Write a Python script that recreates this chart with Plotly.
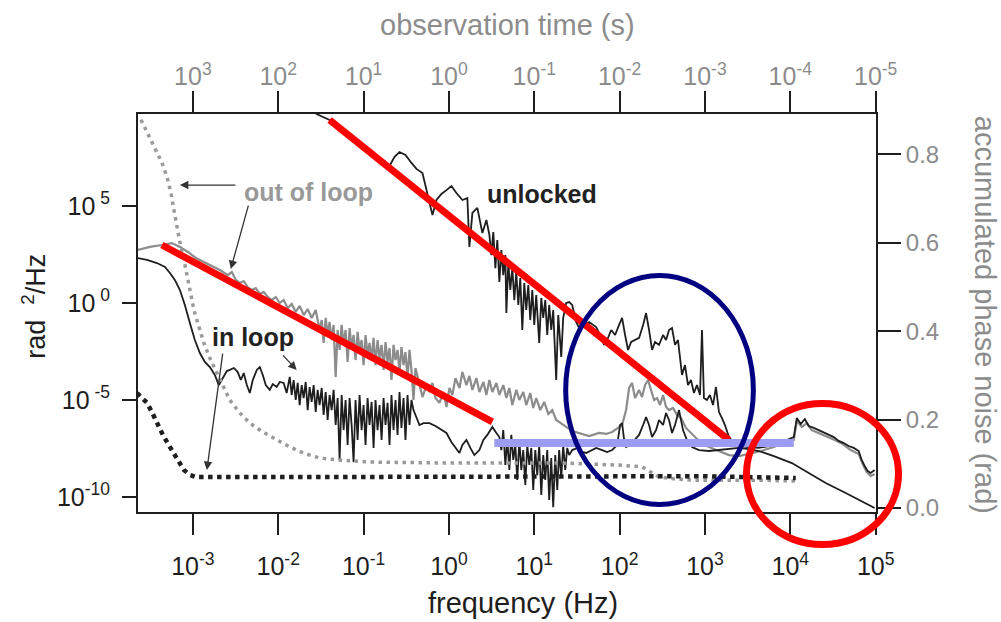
import numpy as np
import plotly.graph_objects as go

# ---------------- data (log10 units) ----------------
# unlocked phase-noise PSD (black)
unlocked_logf = [
    -1.749, -1.550, -1.398, -1.222, -1.047, -0.871, -0.778, -0.696, -0.637, -0.579,
    -0.509, -0.439, -0.380, -0.310, -0.251, -0.193, -0.146, -0.088, -0.029, 0.029,
    0.088, 0.158, 0.216, 0.240, 0.275, 0.333, 0.392, 0.439,
    0.474, 0.497, 0.520, 0.544, 0.567, 0.591, 0.614, 0.637, 0.661, 0.673,
    0.696, 0.719, 0.743, 0.766, 0.789, 0.813, 0.836, 0.860, 0.883, 0.906,
    0.930, 0.953, 0.977, 1.000, 1.023, 1.058, 1.082, 1.105, 1.129, 1.152,
    1.175, 1.199, 1.222, 1.257, 1.281, 1.316, 1.339, 1.374, 1.409, 1.444,
    1.491, 1.526, 1.585, 1.643, 1.725, 1.772, 1.819, 1.854, 1.901, 1.947,
    1.994, 2.029, 2.064, 2.099, 2.135, 2.181, 2.228, 2.275, 2.310, 2.345,
    2.380, 2.415, 2.462, 2.509, 2.544, 2.579, 2.614, 2.649, 2.684, 2.731,
    2.766, 2.801, 2.836, 2.871, 2.906, 2.942, 2.965, 2.988, 3.023, 3.058,
    3.094, 3.129, 3.164, 3.199, 3.234, 3.281, 3.339, 3.398, 3.480, 3.632,
    3.807, 3.959, 4.041, 4.076, 4.123, 4.170, 4.216, 4.275, 4.333, 4.392,
    4.450, 4.509, 4.567, 4.626, 4.684, 4.743, 4.801, 4.836, 4.871, 4.906,
    4.942, 4.988]
unlocked_logpsd = [
    10.46, 9.74, 9.43, 8.92, 8.30, 7.63, 7.27, 7.06, 7.53, 7.78,
    7.63, 7.22, 6.91, 6.70, 5.57, 4.54, 5.31, 5.62, 5.82, 6.03,
    5.67, 5.31, 5.41, 2.89, 4.64, 4.90, 3.61, 4.28,
    3.51, 2.47, 3.66, 1.80, 3.25, 1.08, 2.73, 1.44, 2.47, -0.52,
    2.11, 0.67, 1.80, 0.15, 1.60, -0.10, 1.29, -1.39, 1.03, -0.36,
    0.93, -0.88, 0.67, -1.13, 0.41, -2.06, 0.26, -0.77, 0.15, -1.65,
    -0.10, -1.39, -0.36, -3.97, -0.62, -2.78, -0.77, 0.00, 0.05, -0.10,
    -0.98, -1.29, -1.13, -0.98, -1.24, -1.65, -2.16, -1.91, -1.39, -1.65,
    -1.13, -0.77, -1.65, -2.42, -2.01, -1.91, -1.80, -1.13, -0.52, -1.39,
    -2.42, -2.01, -2.16, -1.65, -1.91, -1.39, -1.29, -2.16, -1.91, -3.71,
    -3.20, -4.23, -3.97, -4.64, -4.23, -4.74, -1.39, -4.90, -5.00, -4.74,
    -5.26, -4.33, -5.62, -5.93, -6.29, -6.91, -7.22, -7.32, -7.42, -7.47,
    -7.32, -7.06, -6.91, -5.93, -6.24, -5.98, -6.34, -6.44, -6.55, -6.70,
    -6.80, -6.91, -7.11, -7.22, -7.37, -7.47, -7.63, -8.09, -8.40, -8.66,
    -8.76, -8.61]

# out-of-loop PSD (grey)
outloop_logf = [
    -3.655, -3.503, -3.363, -3.246, -3.152, -3.058, -2.965, -2.871, -2.778, -2.684,
    -2.591, -2.544, -2.497, -2.450, -2.404, -2.357, -2.310, -2.263, -2.216, -2.170,
    -2.123, -2.076, -2.029, -1.982, -1.936, -1.889, -1.842, -1.795, -1.749, -1.702,
    -1.655, -1.608, -1.561, -1.515, -1.491, -1.468, -1.444, -1.421, -1.398, -1.374,
    -1.351, -1.327, -1.304, -1.281, -1.257, -1.234, -1.211, -1.187, -1.164, -1.140,
    -1.117, -1.094, -1.070, -1.047, -1.023, -1.000, -0.977, -0.953, -0.930, -0.906,
    -0.883, -0.860, -0.836, -0.813, -0.789, -0.766, -0.743, -0.719, -0.696, -0.673,
    -0.649, -0.626, -0.602, -0.579, -0.556, -0.532, -0.509, -0.485, -0.462, -0.439,
    -0.415, -0.392, -0.357, -0.310, -0.263, -0.228, -0.193, -0.158, -0.111, -0.064,
    -0.029, 0.006, 0.041, 0.076, 0.123, 0.158, 0.205, 0.240, 0.275, 0.322,
    0.357, 0.404, 0.439, 0.474, 0.509, 0.556, 0.591, 0.637, 0.673, 0.708,
    0.743, 0.789, 0.825, 0.871, 0.906, 0.953, 0.988, 1.023, 1.070, 1.117,
    1.164, 1.211, 1.257, 1.316, 1.374, 1.444, 1.526, 1.643, 1.760, 1.842,
    1.912, 1.982, 2.029, 2.076, 2.111, 2.146, 2.181, 2.228, 2.263, 2.298,
    2.333, 2.368, 2.404, 2.439, 2.474, 2.509, 2.544, 2.579, 2.626, 2.673,
    2.719, 2.778, 2.836, 2.895, 2.953, 3.023, 3.105, 3.187, 3.281, 3.398,
    3.515, 3.655, 3.807, 3.947, 4.041, 4.076, 4.135, 4.193, 4.251, 4.333,
    4.427, 4.520, 4.614, 4.708, 4.801, 4.848, 4.895, 4.942, 4.988]
outloop_logpsd = [
    2.73, 2.89, 2.99, 3.09, 2.89, 2.63, 2.32, 2.11, 1.91, 1.70,
    1.44, 1.60, 1.19, 1.03, 1.13, 0.82, 0.67, 0.77, 0.46, 0.57,
    0.31, 0.15, 0.31, 0.00, 0.15, -0.26, -0.05, -0.46, -0.15, -0.62,
    -0.31, -0.77, -0.36, -1.39, -0.88, -2.06, -0.77, -1.65, -0.98, -1.91,
    -1.13, -3.81, -1.39, -2.42, -1.13, -2.16, -1.39, -3.04, -1.29, -2.32,
    -1.65, -2.94, -1.49, -2.42, -1.91, -3.20, -1.65, -2.68, -2.06, -2.94,
    -1.80, -3.20, -1.91, -2.84, -2.16, -3.45, -2.01, -3.04, -2.32, -3.97,
    -2.16, -2.94, -2.42, -3.56, -2.27, -3.20, -2.53, -3.87, -2.42, -3.45,
    -5.00, -3.35, -3.97, -4.85, -4.23, -4.59, -4.12, -4.90, -5.15, -4.59,
    -5.36, -4.38, -4.74, -3.87, -4.38, -3.56, -4.23, -3.76, -4.48, -3.87,
    -4.59, -4.07, -4.74, -3.97, -4.59, -4.12, -4.74, -4.23, -4.90, -4.38,
    -5.26, -4.48, -5.00, -4.59, -5.26, -4.64, -5.41, -4.90, -5.52, -5.10,
    -5.72, -5.52, -6.03, -6.19, -6.39, -6.60, -6.70, -6.86, -6.70, -6.75,
    -6.65, -6.44, -6.29, -5.52, -4.38, -4.12, -4.90, -4.48, -4.85, -4.23,
    -3.97, -4.48, -5.00, -4.90, -5.26, -4.74, -5.36, -5.52, -5.41, -5.77,
    -5.93, -6.44, -6.70, -6.96, -7.16, -7.37, -7.53, -7.68, -7.84, -7.89,
    -7.78, -7.63, -7.42, -7.16, -7.06, -6.08, -6.39, -6.19, -6.55, -6.70,
    -6.86, -7.06, -7.27, -7.58, -7.78, -8.30, -8.71, -8.92, -8.81]

# in-loop PSD (black)
inloop_logf = [
    -3.655, -3.538, -3.421, -3.327, -3.269, -3.211, -3.152, -3.094, -3.035, -2.977,
    -2.918, -2.860, -2.801, -2.743, -2.696, -2.649, -2.602, -2.567, -2.520, -2.474,
    -2.439, -2.404, -2.368, -2.333, -2.298, -2.251, -2.216, -2.181, -2.146, -2.099,
    -2.064, -2.018, -1.982, -1.936, -1.901, -1.865, -1.842, -1.819, -1.795, -1.772,
    -1.749, -1.725, -1.702, -1.678, -1.655, -1.632, -1.608, -1.585, -1.561, -1.538,
    -1.515, -1.491, -1.468, -1.444, -1.421, -1.398, -1.374, -1.351, -1.327, -1.304,
    -1.281, -1.257, -1.234, -1.211, -1.187, -1.164, -1.140, -1.117, -1.094, -1.070,
    -1.047, -1.023, -1.000, -0.977, -0.953, -0.930, -0.906, -0.883, -0.860, -0.836,
    -0.813, -0.789, -0.766, -0.743, -0.719, -0.696, -0.673, -0.649, -0.626, -0.602,
    -0.579, -0.556, -0.532, -0.509, -0.485, -0.462, -0.439, -0.415, -0.380, -0.345,
    -0.298, -0.228, -0.158, -0.088, -0.029, 0.029, 0.076, 0.123, 0.158, 0.205,
    0.251, 0.298, 0.357, 0.404, 0.450, 0.509, 0.556, 0.591, 0.614, 0.637,
    0.661, 0.684, 0.708, 0.731, 0.754, 0.778, 0.801, 0.825, 0.848, 0.871,
    0.895, 0.918, 0.942, 0.965, 0.988, 1.012, 1.035, 1.058, 1.082, 1.105,
    1.129, 1.152, 1.175, 1.199, 1.222, 1.246, 1.269, 1.292, 1.316, 1.339,
    1.363, 1.386, 1.409, 1.444, 1.503, 1.561, 1.608, 1.667, 1.725, 1.795,
    1.854, 1.912, 1.971, 2.006, 2.029, 2.053, 2.076, 2.123, 2.170, 2.228,
    2.275, 2.310, 2.345, 2.380, 2.427, 2.462, 2.509, 2.544, 2.579, 2.614,
    2.649, 2.696, 2.743, 2.789, 2.848, 2.930, 3.047, 3.164, 3.281, 3.398,
    3.515, 3.632, 3.807, 4.018, 4.216, 4.415, 4.626, 4.801, 4.953, 4.988]
inloop_logpsd = [
    2.32, 2.22, 2.06, 1.86, 1.55, 1.19, 0.67, -0.10, -1.03, -1.91,
    -2.58, -3.04, -3.30, -3.71, -4.23, -3.87, -3.51, -3.45, -3.35, -3.56,
    -3.97, -3.61, -4.23, -4.64, -3.97, -3.45, -3.30, -3.71, -4.23, -4.48,
    -4.18, -4.33, -4.07, -4.12, -4.64, -3.81, -4.74, -3.97, -5.00, -4.12,
    -5.26, -4.23, -4.90, -4.07, -5.52, -4.33, -5.10, -4.23, -5.62, -4.48,
    -5.26, -4.38, -5.77, -4.59, -6.03, -4.74, -5.52, -4.48, -6.29, -4.90,
    -8.09, -4.74, -6.55, -5.00, -7.32, -4.90, -6.29, -8.20, -5.00, -7.06,
    -4.74, -6.55, -5.26, -7.32, -4.90, -6.29, -5.10, -7.47, -5.00, -6.55,
    -5.26, -7.06, -4.90, -6.29, -5.15, -7.32, -4.74, -6.55, -5.00, -6.80,
    -4.59, -6.44, -4.90, -7.06, -4.74, -6.29, -5.00, -5.52, -5.93, -6.29,
    -6.19, -6.19, -6.34, -6.55, -6.70, -7.16, -7.47, -7.73, -7.32, -7.06,
    -7.47, -7.84, -7.58, -7.06, -6.80, -6.39, -6.70, -6.91, -7.58, -6.55,
    -8.35, -7.06, -8.61, -6.80, -8.09, -7.32, -9.12, -7.06, -8.61, -7.58,
    -9.38, -7.32, -8.35, -7.47, -9.64, -7.58, -8.87, -7.32, -9.90, -7.84,
    -9.12, -7.58, -10.15, -7.99, -10.52, -7.84, -9.64, -7.58, -9.02, -7.32,
    -8.61, -7.47, -7.84, -7.58, -7.47, -7.68, -7.73, -7.58, -7.47, -7.58,
    -7.68, -7.58, -7.32, -6.29, -6.19, -7.06, -7.42, -7.32, -7.06, -6.80,
    -6.29, -5.88, -6.29, -6.91, -6.55, -6.03, -6.29, -5.67, -6.03, -6.70,
    -6.29, -5.52, -6.55, -7.06, -7.42, -7.58, -7.63, -7.58, -7.53, -7.47,
    -7.53, -7.63, -7.89, -8.25, -8.76, -9.28, -9.74, -10.15, -10.52, -10.57]

# accumulated phase noise (rad), right axis
acc_out_logf = [
    -3.608, -3.538, -3.480, -3.421, -3.363, -3.304, -3.257, -3.222, -3.187, -3.152,
    -3.105, -3.070, -3.023, -2.988, -2.930, -2.871, -2.801, -2.719, -2.637, -2.567,
    -2.450, -2.333, -2.181, -2.018, -1.865, -1.702, -1.515, -1.316, -0.930, -0.146,
    0.591, 1.292, 1.994, 2.263, 2.368, 2.462, 2.637, 2.848, 3.246, 3.632, 4.064]
acc_out_rad = [
    0.878, 0.851, 0.828, 0.805, 0.781, 0.749, 0.713, 0.674, 0.636, 0.600,
    0.561, 0.523, 0.482, 0.448, 0.410, 0.373, 0.339, 0.305, 0.271, 0.244,
    0.215, 0.192, 0.172, 0.154, 0.138, 0.124, 0.113, 0.109, 0.104, 0.102,
    0.102, 0.102, 0.097, 0.093, 0.081, 0.070, 0.066, 0.063, 0.063, 0.063, 0.061]
acc_in_logf = [-3.655, -3.596, -3.538, -3.480, -3.421, -3.351, -3.269, -3.187,
               -3.105, -3.035, -2.965, -1.749, 0.006, 1.760, 2.930, 4.064]
acc_in_rad = [0.260, 0.249, 0.238, 0.217, 0.192, 0.165, 0.138, 0.111,
              0.086, 0.075, 0.070, 0.070, 0.070, 0.072, 0.072, 0.068]

# tick labels
freq_ticks = [1e-3, 1e-2, 1e-1, 1e0, 1e1, 1e2, 1e3, 1e4, 1e5]
freq_ticktext = ["10<sup>-3</sup>", "10<sup>-2</sup>", "10<sup>-1</sup>", "10<sup>0</sup>",
                 "10<sup>1</sup>", "10<sup>2</sup>", "10<sup>3</sup>", "10<sup>4</sup>", "10<sup>5</sup>"]
time_ticks = [1e3, 1e2, 1e1, 1e0, 1e-1, 1e-2, 1e-3, 1e-4, 1e-5]
time_ticktext = ["10<sup>3</sup>", "10<sup>2</sup>", "10<sup>1</sup>", "10<sup>0</sup>",
                 "10<sup>-1</sup>", "10<sup>-2</sup>", "10<sup>-3</sup>", "10<sup>-4</sup>", "10<sup>-5</sup>"]
psd_ticks = [1e-10, 1e-5, 1e0, 1e5]
psd_ticktext = ["10<sup>-10</sup>", "10<sup> -5</sup>", "10<sup> 0</sup>", "10<sup> 5</sup>"]
rad_ticks = [0.0, 0.2, 0.4, 0.6, 0.8]
rad_ticktext = ["0.0", "0.2", "0.4", "0.6", "0.8"]

# overlay marks drawn on the figure (log10 units)
red_line1 = dict(logf=[-1.398, 3.281], logpsd=[9.43, -7.06])
red_line2 = dict(logf=[-3.363, 0.509], logpsd=[2.99, -6.13])
lavender_line = dict(logf=[0.532, 4.041], logpsd=[-7.22, -7.22])
blue_ellipse = dict(logf=[1.368, 3.567], logpsd=[-10.39, 1.42])

FONT = "Liberation Sans, Arial, Helvetica, sans-serif"
DARK = "#1e1e1e"
GREY = "#8c8c8c"

def p(v):
    return 10 ** np.array(v, dtype=float)

fig = go.Figure()

fig.add_trace(go.Scatter(x=p(acc_out_logf), y=acc_out_rad, yaxis="y2", mode="lines",
                         line=dict(color="#9a9a9a", width=3.5, dash="3.5px,4.5px"),
                         hoverinfo="skip", showlegend=False))
fig.add_trace(go.Scatter(x=p(acc_in_logf), y=acc_in_rad, yaxis="y2", mode="lines",
                         line=dict(color=DARK, width=4.5, dash="4.5px,4.5px"),
                         hoverinfo="skip", showlegend=False))
fig.add_trace(go.Scatter(x=p(outloop_logf), y=p(outloop_logpsd), mode="lines",
                         line=dict(color=GREY, width=2.2), hoverinfo="skip", showlegend=False))
fig.add_trace(go.Scatter(x=p(inloop_logf), y=p(inloop_logpsd), mode="lines",
                         line=dict(color=DARK, width=1.8), hoverinfo="skip", showlegend=False))
fig.add_trace(go.Scatter(x=p(unlocked_logf), y=p(unlocked_logpsd), mode="lines",
                         line=dict(color=DARK, width=1.8), hoverinfo="skip", showlegend=False))
# carrier for the top (observation time) axis
fig.add_trace(go.Scatter(x=[1e3], y=[1.0], xaxis="x2", mode="markers",
                         marker=dict(opacity=0), hoverinfo="skip", showlegend=False))

shapes = []
for seg, col, w in [(red_line1, "#ff0000", 7), (red_line2, "#ff0000", 7),
                    (lavender_line, "#9c9cf2", 8)]:
    xs, ys = p(seg["logf"]), p(seg["logpsd"])
    shapes.append(dict(type="line", xref="x", yref="y", x0=xs[0], y0=ys[0], x1=xs[1], y1=ys[1],
                       line=dict(color=col, width=w), layer="above"))
ex, ey = p(blue_ellipse["logf"]), p(blue_ellipse["logpsd"])
shapes.append(dict(type="circle", xref="x", yref="y", x0=ex[0], x1=ex[1], y0=ey[0], y1=ey[1],
                   line=dict(color="#000080", width=5), layer="above"))
shapes.append(dict(type="circle", xref="paper", yref="paper", x0=0.8245, x1=1.0305,
                   y0=-0.0817, y1=0.2726, line=dict(color="#ff0000", width=7), layer="above"))

annotations = [
    dict(text="<b>unlocked</b>", x=1.094, y=5.62, xref="x", yref="y", showarrow=False,
         font=dict(family=FONT, size=25, color="#222")),
    dict(text="<b>out of loop</b>", x=-1.643, y=5.72, xref="x", yref="y", showarrow=False,
         font=dict(family=FONT, size=25, color="#999")),
    dict(text="<b>in loop</b>", x=-2.292, y=-1.75, xref="x", yref="y", showarrow=False,
         font=dict(family=FONT, size=25, color="#222")),
    # arrows
    dict(text="", x=-3.152, y=6.08, xref="x", yref="y", ax=57, ay=0, showarrow=True,
         arrowhead=2, arrowsize=1.3, arrowwidth=1.3, arrowcolor="#333"),
    dict(text="", x=-2.556, y=1.75, xref="x", yref="y", ax=18, ay=-65, showarrow=True,
         arrowhead=2, arrowsize=1.3, arrowwidth=1.3, arrowcolor="#333"),
    dict(text="", x=-2.836, y=-8.61, xref="x", yref="y", ax=16, ay=-118, showarrow=True,
         arrowhead=2, arrowsize=1.3, arrowwidth=1.3, arrowcolor="#333"),
    dict(text="", x=-1.784, y=-3.45, xref="x", yref="y", ax=-15, ay=-16, showarrow=True,
         arrowhead=2, arrowsize=1.3, arrowwidth=1.3, arrowcolor="#333"),
    # axis titles
    dict(text="observation time (s)", x=0.5, y=1.224, xref="paper", yref="paper",
         showarrow=False, xanchor="center", yanchor="middle",
         font=dict(family=FONT, size=29, color=GREY)),
    dict(text="frequency (Hz)", x=0.522, y=-0.229, xref="paper", yref="paper",
         showarrow=False, xanchor="center", yanchor="middle",
         font=dict(family=FONT, size=29, color=DARK)),
    dict(text="rad  <sup>2</sup>/Hz", x=-0.141, y=0.518, xref="paper", yref="paper",
         showarrow=False, textangle=-90, xanchor="center", yanchor="middle",
         font=dict(family=FONT, size=27, color=DARK)),
    dict(text="accumulated phase noise (rad)", x=1.148, y=0.495, xref="paper", yref="paper",
         showarrow=False, textangle=90, xanchor="center", yanchor="middle",
         font=dict(family=FONT, size=29, color=GREY)),
]

axis_common = dict(showgrid=False, zeroline=False, showline=True, linewidth=2,
                   linecolor=DARK, ticks="outside", tickwidth=1.6, tickcolor=DARK)

fig.update_layout(
    width=1001, height=622,
    margin=dict(l=138, r=125, t=114, b=110),
    paper_bgcolor="white", plot_bgcolor="white",
    font=dict(family=FONT),
    xaxis=dict(type="log", range=[-3.643, 5.004], tickmode="array", tickvals=freq_ticks,
               ticktext=freq_ticktext, ticklen=21, ticklabelstandoff=10,
               tickfont=dict(size=25, color=DARK), **axis_common),
    xaxis2=dict(type="log", range=[3.643, -5.004], overlaying="x", side="top", anchor="y",
                tickmode="array", tickvals=time_ticks, ticktext=time_ticktext, ticklen=21,
                ticklabelstandoff=-4, tickfont=dict(size=25, color=GREY), **axis_common),
    yaxis=dict(type="log", range=[-10.773, 9.742], tickmode="array", tickvals=psd_ticks,
               ticktext=psd_ticktext, ticklen=14, ticklabelstandoff=7,
               tickfont=dict(size=25, color=DARK), **axis_common),
    yaxis2=dict(range=[-0.009, 0.891], overlaying="y", side="right", anchor="x",
                tickmode="array", tickvals=rad_ticks, ticktext=rad_ticktext, ticklen=23,
                tickfont=dict(size=24, color=GREY), **axis_common),
    shapes=shapes,
    annotations=annotations,
    showlegend=False,
)

fig.write_html("out.html")
